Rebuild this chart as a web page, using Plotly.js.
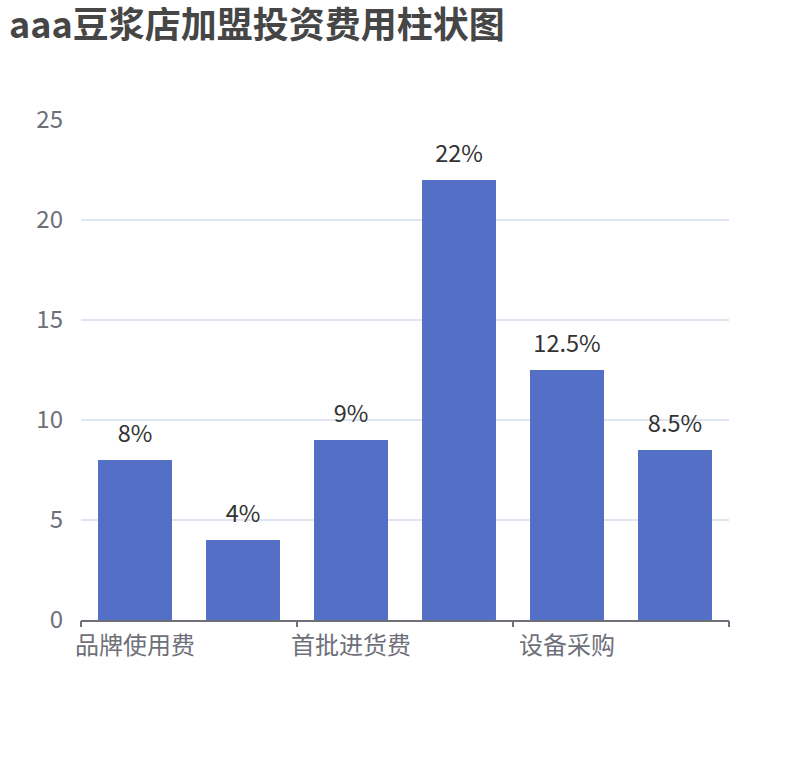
<!DOCTYPE html>
<html>
<head>
<meta charset="utf-8">
<script src="https://cdn.plot.ly/plotly-3.0.1.min.js"></script>
<style>
  html, body { margin: 0; padding: 0; background: #fff; }
  #chart { width: 810px; height: 760px; }
</style>
</head>
<body>
<div id="chart"></div>
<script>
// categories (only every second one is labelled in the picture)
var categories = ['品牌使用费', '加盟费', '首批进货费', '装修费', '设备采购', '其他费用'];
var values = [8, 4, 9, 22, 12.5, 8.5];
var labels = ['8%', '4%', '9%', '22%', '12.5%', '8.5%'];
var yTicks = [0, 5, 10, 15, 20, 25];

var idx = categories.map(function (c, i) { return i; });
var shownIdx = idx.filter(function (i) { return i % 2 === 0; });
var boundaries = shownIdx.map(function (i) { return i - 0.5; }).concat([categories.length - 0.5]);

var font = '"Noto Sans CJK SC", "Noto Sans", sans-serif';

var bars = {
  x: idx,
  y: values,
  type: 'bar',
  width: 0.685,
  marker: { color: '#5470c6' },
  hovertext: categories,
  hoverinfo: 'text+y'
};

// value labels above the bars
var barLabels = {
  x: idx,
  y: values,
  text: labels,
  type: 'scatter',
  mode: 'markers+text',
  textposition: 'top center',
  textfont: { family: font, size: 23.5, color: '#333' },
  marker: { size: 18, opacity: 0 },
  cliponaxis: false,
  hoverinfo: 'skip'
};

// dummy trace to carry the boundary tick marks axis
var tickTrace = {
  x: [categories.length - 0.5],
  y: [0],
  xaxis: 'x2',
  type: 'scatter',
  mode: 'markers',
  marker: { opacity: 0 },
  hoverinfo: 'skip'
};

var layout = {
  width: 810,
  height: 760,
  margin: { l: 81, r: 81, t: 120, b: 140 },
  paper_bgcolor: '#fff',
  plot_bgcolor: '#fff',
  showlegend: false,
  font: { family: font, color: '#6E7079' },
  title: {
    text: 'aaa豆浆店加盟投资费用柱状图',
    font: { family: font, size: 36, color: '#464646', weight: 'bold' },
    xref: 'container',
    yref: 'container',
    x: 0.011,
    xanchor: 'left',
    y: 0.983,
    yanchor: 'top'
  },
  xaxis: {
    type: 'linear',
    range: [-0.5, categories.length - 0.5],
    tickvals: shownIdx,
    ticktext: shownIdx.map(function (i) { return categories[i]; }),
    ticks: '',
    ticklabelstandoff: 3,
    tickfont: { family: font, size: 24, color: '#6E7079' },
    showline: true,
    linecolor: '#6E7079',
    linewidth: 1.5,
    showgrid: false,
    zeroline: false,
    fixedrange: true
  },
  xaxis2: {
    type: 'linear',
    overlaying: 'x',
    anchor: 'y',
    side: 'bottom',
    range: [-0.5, categories.length - 0.5],
    tickvals: boundaries,
    ticks: 'outside',
    ticklen: 6,
    tickwidth: 1.5,
    tickcolor: '#6E7079',
    showticklabels: false,
    showline: false,
    showgrid: false,
    zeroline: false,
    fixedrange: true
  },
  yaxis: {
    range: [0, 25],
    tickvals: yTicks,
    ticks: '',
    ticklabelstandoff: 17,
    tickfont: { family: font, size: 24, color: '#6E7079' },
    showgrid: true,
    gridcolor: '#E0E6F1',
    gridwidth: 1.5,
    showline: false,
    zeroline: false,
    fixedrange: true
  }
};

Plotly.newPlot('chart', [bars, barLabels, tickTrace], layout, { displayModeBar: false, responsive: true });
</script>
</body>
</html>
